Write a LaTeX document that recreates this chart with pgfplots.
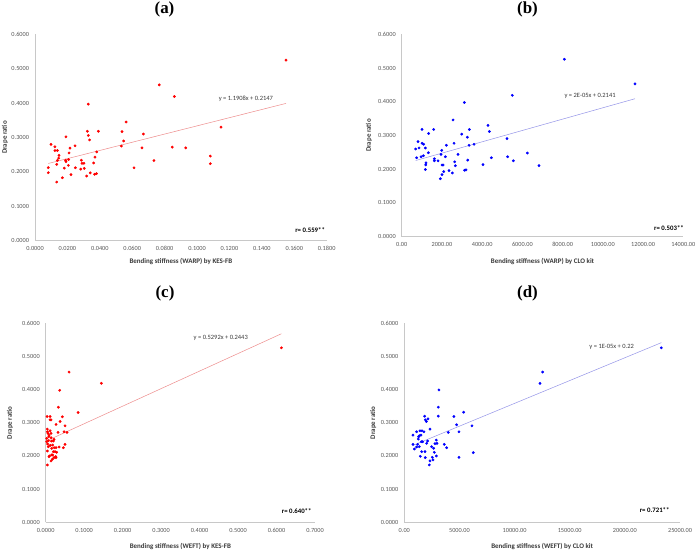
\documentclass[border=0pt]{standalone}
\usepackage{pgfplots}
\pgfplotsset{compat=1.18}
\usepackage{fontspec}
\setmainfont{Carlito}
\newfontfamily\titlefont{Liberation Serif}
\definecolor{axgray}{HTML}{C8C8C8}
\definecolor{tickgray}{HTML}{595959}
\definecolor{labelgray}{HTML}{3A3A3A}
\definecolor{trendred}{HTML}{EE8C8C}
\definecolor{trendblue}{HTML}{9494E8}
\definecolor{dotred}{HTML}{FF0000}
\definecolor{dotblue}{HTML}{0000FF}
\pgfplotsset{
  panel/.style={
    scale only axis, anchor=south west, clip=false,
    axis x line*=bottom, axis y line*=left,
    axis line style={draw=axgray, line width=0.6pt},
    major tick length=0pt,
    ymin=0, ymax=0.6, ytick={0,0.1,0.2,0.3,0.4,0.5,0.6},
    /pgf/number format/assume math mode=true,
    tick label style={font=\fontsize{6.3}{7}\selectfont, text=tickgray},
    yticklabel style={xshift=-2.5pt, /pgf/number format/.cd, fixed, fixed zerofill, precision=4},
    xticklabel style={yshift=-2.5pt},
    label style={font=\bfseries\fontsize{7}{8}\selectfont, text=labelgray},
    ylabel={Drape ratio},
  },
  dots/.style={only marks, mark=*, mark size=1.2pt, draw=#1, fill=#1},
  trend/.style={no marks, draw=#1, line width=0.5pt},
}
\tikzset{
  eq/.style={font=\fontsize{6.5}{7}\selectfont, text=labelgray, anchor=center},
  rr/.style={font=\bfseries\fontsize{6.8}{7}\selectfont, text=black, anchor=center},
}
\begin{document}
\begin{tikzpicture}
\fill[white] (0bp,0bp) rectangle (700bp,551bp);

% titles
\node[font=\titlefont\bfseries\fontsize{17}{20}\selectfont] at (164.5bp,541.5bp) {(a)};
\node[font=\titlefont\bfseries\fontsize{17}{20}\selectfont] at (527.5bp,541.5bp) {(b)};
\node[font=\titlefont\bfseries\fontsize{17}{20}\selectfont] at (165bp,257.5bp) {(c)};
\node[font=\titlefont\bfseries\fontsize{17}{20}\selectfont] at (527.5bp,257.5bp) {(d)};

% (a)
\begin{axis}[panel, at={(35bp,310.3bp)}, width=291.7bp, height=206.4bp,
  xmin=0, xmax=0.18, xtick={0,0.02,0.04,0.06,0.08,0.1,0.12,0.14,0.16,0.18},
  xticklabel style={/pgf/number format/.cd, fixed, fixed zerofill, precision=4},
  xlabel={Bending stiffness (WARP) by KES-FB},
  xlabel style={at={(axis description cs:0.5,-0.1017)}, anchor=center},
  ylabel style={at={(axis description cs:-0.1028,0.5)}, anchor=center}]
\addplot[trend=trendred] coordinates {(0.0082,0.2245) (0.1549,0.3992)};
\addplot[dots=dotred] coordinates {
(0.0082,0.2123) (0.0082,0.1977) (0.0099,0.280) (0.0123,0.273) (0.0123,0.262)
(0.0138,0.262) (0.0134,0.222) (0.0138,0.233) (0.0146,0.240) (0.0148,0.248)
(0.0134,0.1706) (0.0169,0.183) (0.0181,0.211) (0.0189,0.234) (0.0191,0.302)
(0.0191,0.230) (0.0206,0.219) (0.0208,0.236) (0.0210,0.255) (0.0216,0.269)
(0.0222,0.192) (0.0247,0.276) (0.0249,0.212) (0.0282,0.208) (0.0286,0.234)
(0.0290,0.225) (0.0302,0.225) (0.0304,0.210) (0.0319,0.188) (0.0323,0.318)
(0.0329,0.306) (0.0329,0.397) (0.0337,0.293) (0.0341,0.197) (0.0362,0.226)
(0.0368,0.193) (0.0370,0.243) (0.0379,0.195) (0.0381,0.258) (0.0391,0.318)
(0.0533,0.275) (0.0537,0.317) (0.0547,0.290) (0.0562,0.345) (0.0611,0.212)
(0.0660,0.270) (0.0669,0.310) (0.0734,0.233) (0.0767,0.453) (0.0847,0.272)
(0.0860,0.419) (0.0930,0.270) (0.1082,0.246) (0.1082,0.224) (0.1148,0.330)
(0.1549,0.525)};
\node[eq] at (axis description cs:0.723,0.6865) {y = 1.1908x + 0.2147};
\node[rr] at (axis description cs:0.943,0.052) {r= 0.559**};
\end{axis}

% (b)
\begin{axis}[panel, at={(401.7bp,314.3bp)}, width=281.6bp, height=202.4bp,
  xmin=0, xmax=14000, xtick={0,2000,4000,6000,8000,10000,12000,14000},
  scaled x ticks=false,
  xticklabel style={/pgf/number format/.cd, fixed, fixed zerofill, precision=2, 1000 sep={}},
  xlabel={Bending stiffness (WARP) by CLO kit},
  xlabel style={at={(axis description cs:0.5,-0.1235)}, anchor=center},
  ylabel style={at={(axis description cs:-0.116,0.5)}, anchor=center}]
\addplot[trend=trendblue] coordinates {(696,0.2258) (11598,0.409)};
\addplot[dots=dotblue] coordinates {
(696,0.260) (745,0.234) (812,0.282) (861,0.263) (961,0.237)
(1011,0.318) (1011,0.277) (1077,0.240) (1093,0.274) (1176,0.263)
(1209,0.219) (1193,0.213) (1176,0.199) (1325,0.249) (1342,0.306)
(1590,0.318) (1624,0.231) (1624,0.225) (1806,0.225) (1922,0.172)
(1955,0.244) (1988,0.256) (2005,0.2125) (2055,0.2125) (2005,0.184)
(2088,0.193) (2171,0.237) (2220,0.271) (2353,0.196) (2518,0.189)
(2552,0.346) (2601,0.277) (2634,0.222) (2667,0.2105) (2800,0.244)
(2982,0.304) (3115,0.398) (3131,0.197) (3198,0.198) (3264,0.295)
(3280,0.227) (3347,0.271) (3363,0.318) (3595,0.274) (4042,0.2135)
(4291,0.330) (4358,0.312) (4457,0.234) (5235,0.291) (5268,0.237)
(5500,0.419) (5550,0.225) (6246,0.248) (6826,0.2105) (8085,0.526)
(11598,0.453)};
\node[eq] at (axis description cs:0.669,0.697) {y = 2E-05x + 0.2141};
\node[rr] at (axis description cs:0.949,0.043) {r= 0.503**};
\end{axis}

% (c)
\begin{axis}[panel, at={(45.7bp,28.7bp)}, width=269.3bp, height=199bp,
  xmin=0, xmax=0.7, xtick={0,0.1,0.2,0.3,0.4,0.5,0.6,0.7},
  xticklabel style={/pgf/number format/.cd, fixed, fixed zerofill, precision=4},
  xlabel={Bending stiffness (WEFT) by KES-FB},
  xlabel style={at={(axis description cs:0.5,-0.1226)}, anchor=center},
  ylabel style={at={(axis description cs:-0.1326,0.5)}, anchor=center}]
\addplot[trend=trendred] coordinates {(0.0026,0.2457) (0.6127,0.5685)};
\addplot[dots=dotred] coordinates {
(0.0043,0.1729) (0.0043,0.215) (0.0026,0.243) (0.0026,0.253) (0.0043,0.273)
(0.0043,0.281) (0.0035,0.319) (0.0069,0.228) (0.0069,0.246) (0.0087,0.198)
(0.0087,0.263) (0.0113,0.276) (0.0113,0.319) (0.0113,0.309) (0.0139,0.268)
(0.0139,0.255) (0.0139,0.309) (0.0156,0.223) (0.0156,0.203) (0.0139,0.185)
(0.0173,0.190) (0.0182,0.233) (0.0199,0.245) (0.0199,0.213) (0.0217,0.250)
(0.0217,0.195) (0.0243,0.213) (0.0260,0.198) (0.0269,0.225) (0.0269,0.195)
(0.0269,0.295) (0.0286,0.211) (0.0321,0.271) (0.0329,0.347) (0.0347,0.227)
(0.0364,0.398) (0.0373,0.304) (0.0433,0.318) (0.0459,0.225) (0.0477,0.273)
(0.0503,0.291) (0.0503,0.235) (0.0555,0.271) (0.0607,0.453) (0.0841,0.331)
(0.1447,0.419) (0.6127,0.526)
(0.0050,0.236) (0.0080,0.258) (0.0120,0.232) (0.0180,0.203) (0.0100,0.200)
(0.0220,0.225) (0.0060,0.268) (0.0150,0.245)};
\node[eq] at (axis description cs:0.650,0.925) {y = 0.5292x + 0.2443};
\node[rr] at (axis description cs:0.932,0.058) {r= 0.640**};
\end{axis}

% (d)
\begin{axis}[panel, at={(404.3bp,28.7bp)}, width=275.7bp, height=199bp,
  xmin=0, xmax=25000, xtick={0,5000,10000,15000,20000,25000},
  scaled x ticks=false,
  xticklabel style={/pgf/number format/.cd, fixed, fixed zerofill, precision=2, 1000 sep={}},
  xlabel={Bending stiffness (WEFT) by CLO kit},
  xlabel style={at={(axis description cs:0.5,-0.1226)}, anchor=center},
  ylabel style={at={(axis description cs:-0.1124,0.5)}, anchor=center}]
\addplot[trend=trendblue] coordinates {(786,0.2319) (23307,0.5416)};
\addplot[dots=dotblue] coordinates {
(786,0.263) (786,0.235) (907,0.221) (1119,0.273) (1119,0.227)
(1209,0.235) (1270,0.251) (1300,0.258) (1360,0.228) (1360,0.261)
(1421,0.276) (1451,0.199) (1512,0.263) (1542,0.243) (1572,0.213)
(1602,0.276) (1663,0.243) (1784,0.273) (1844,0.320) (1874,0.213)
(1905,0.195) (1905,0.309) (1995,0.304) (2026,0.238) (2116,0.245)
(2147,0.312) (2267,0.173) (2328,0.281) (2328,0.185) (2479,0.228)
(2540,0.196) (2600,0.188) (2661,0.223) (2721,0.211) (2781,0.237)
(2902,0.248) (2902,0.200) (2963,0.238) (3083,0.347) (3083,0.320)
(3144,0.399) (3628,0.235) (3839,0.225) (3990,0.271) (4504,0.319)
(4746,0.294) (4958,0.273) (4958,0.196) (5381,0.332) (6137,0.291)
(6257,0.210) (12304,0.419) (12545,0.453) (23307,0.526)};
\node[eq] at (axis description cs:0.752,0.882) {y = 1E-05x + 0.22};
\node[rr] at (axis description cs:0.908,0.062) {r= 0.721**};
\end{axis}
\pgfresetboundingbox
\path (0bp,0bp) rectangle (700bp,551bp);
\end{tikzpicture}
\end{document}
